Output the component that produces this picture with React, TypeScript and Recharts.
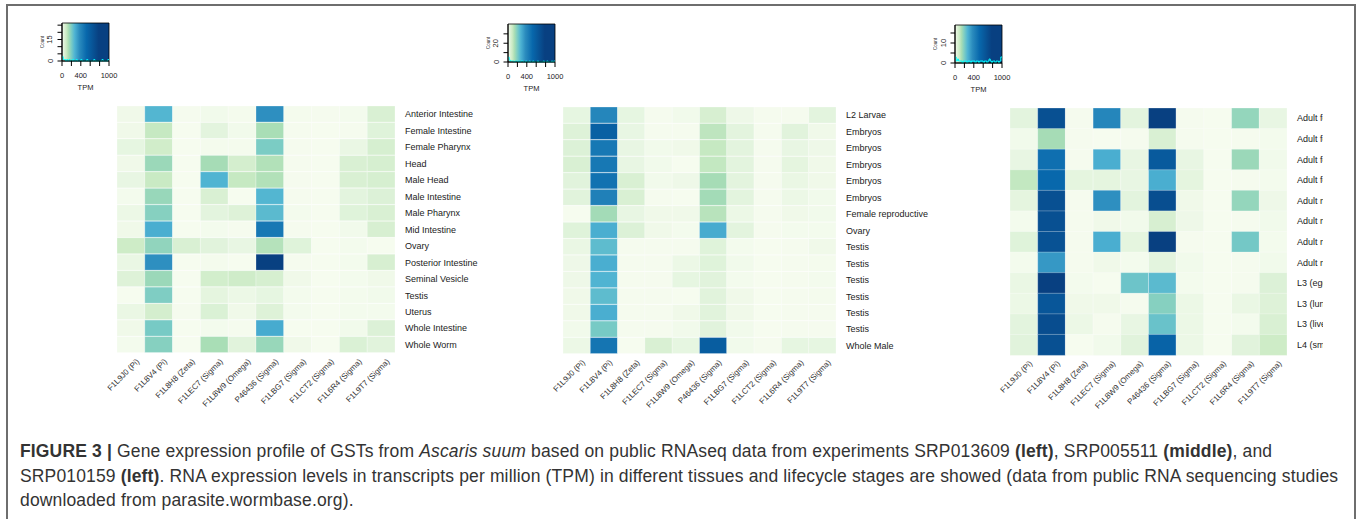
import React from "react";
import {
  BarChart,
  Bar,
  Cell,
  XAxis,
  YAxis,
  ComposedChart,
  Line,
  ReferenceArea,
  Label,
} from "recharts";

// genes (columns), same order in all three panels
const GENES = [
  "F1L9J0 (Pi)",
  "F1L8V4 (Pi)",
  "F1L8H8 (Zeta)",
  "F1LEC7 (Sigma)",
  "F1L8W9 (Omega)",
  "P46436 (Sigma)",
  "F1LBG7 (Sigma)",
  "F1LCT2 (Sigma)",
  "F1L6R4 (Sigma)",
  "F1L9T7 (Sigma)",
];

// SRP013609 - tissues
const LEFT_TISSUES = [
  "Anterior Intestine",
  "Female Intestine",
  "Female Pharynx",
  "Head",
  "Male Head",
  "Male Intestine",
  "Male Pharynx",
  "Mid Intestine",
  "Ovary",
  "Posterior Intestine",
  "Seminal Vesicle",
  "Testis",
  "Uterus",
  "Whole Intestine",
  "Whole Worm",
];
const LEFT_TPM = [
  [40, 610, 10, 30, 15, 740, 15, 10, 20, 170],
  [40, 270, 5, 110, 30, 370, 10, 5, 10, 130],
  [90, 220, 5, 15, 15, 500, 10, 5, 70, 190],
  [40, 410, 5, 380, 200, 340, 10, 5, 170, 190],
  [80, 260, 5, 620, 270, 340, 10, 5, 170, 190],
  [20, 420, 5, 170, 5, 610, 10, 5, 110, 150],
  [60, 470, 5, 110, 140, 590, 20, 5, 130, 170],
  [40, 640, 5, 20, 10, 820, 10, 5, 30, 180],
  [240, 440, 170, 120, 80, 330, 130, 5, 20, 5],
  [70, 740, 5, 15, 5, 1000, 10, 5, 20, 180],
  [140, 410, 5, 210, 230, 190, 40, 5, 20, 40],
  [5, 490, 5, 100, 60, 90, 20, 5, 20, 30],
  [70, 200, 10, 160, 40, 140, 20, 5, 20, 20],
  [40, 510, 5, 20, 10, 650, 5, 5, 30, 150],
  [20, 470, 5, 370, 120, 420, 40, 5, 160, 120],
];

// SRP005511 - lifecycle stages
const MID_TISSUES = [
  "L2 Larvae",
  "Embryos",
  "Embryos",
  "Embryos",
  "Embryos",
  "Embryos",
  "Female reproductive",
  "Ovary",
  "Testis",
  "Testis",
  "Testis",
  "Testis",
  "Testis",
  "Testis",
  "Whole Male",
];
const MID_TPM = [
  [90, 770, 90, 10, 30, 180, 50, 10, 10, 110],
  [140, 900, 80, 10, 10, 300, 110, 10, 120, 40],
  [150, 820, 80, 30, 40, 270, 110, 10, 80, 50],
  [170, 820, 80, 30, 5, 280, 110, 10, 100, 40],
  [120, 840, 170, 30, 50, 380, 110, 10, 70, 40],
  [120, 790, 170, 10, 5, 390, 110, 10, 60, 30],
  [5, 390, 80, 40, 40, 320, 60, 10, 40, 30],
  [130, 640, 150, 40, 20, 650, 110, 10, 20, 20],
  [70, 580, 10, 10, 10, 130, 20, 5, 10, 40],
  [50, 640, 10, 10, 60, 130, 30, 5, 10, 15],
  [50, 620, 10, 10, 90, 120, 20, 5, 10, 20],
  [40, 580, 10, 10, 5, 120, 40, 5, 10, 15],
  [40, 640, 10, 10, 40, 120, 40, 5, 10, 10],
  [30, 510, 10, 10, 30, 120, 30, 5, 10, 10],
  [60, 830, 5, 170, 90, 910, 30, 10, 90, 90],
];

// SRP010159 - labels are cut off at the panel edge
const RIGHT_TISSUES = [
  "Adult female",
  "Adult female",
  "Adult female",
  "Adult female",
  "Adult male",
  "Adult male",
  "Adult male",
  "Adult male",
  "L3 (egg)",
  "L3 (lung)",
  "L3 (liver)",
  "L4 (small intestine)",
];
const RIGHT_TPM = [
  [110, 950, 10, 770, 110, 1000, 10, 5, 430, 80],
  [30, 380, 10, 5, 10, 170, 10, 5, 10, 20],
  [80, 850, 10, 640, 80, 920, 80, 5, 410, 30],
  [280, 875, 100, 100, 80, 640, 100, 5, 10, 20],
  [100, 950, 10, 740, 110, 955, 40, 5, 430, 50],
  [20, 950, 10, 40, 30, 180, 50, 5, 10, 30],
  [130, 945, 10, 640, 100, 1000, 10, 5, 520, 20],
  [20, 710, 10, 40, 20, 110, 30, 5, 10, 30],
  [70, 1000, 20, 5, 540, 590, 20, 5, 10, 150],
  [60, 930, 40, 40, 10, 470, 60, 5, 70, 140],
  [110, 960, 60, 10, 80, 550, 60, 5, 20, 170],
  [120, 950, 5, 30, 120, 890, 60, 5, 120, 240],
];

// colour key histograms (count per 25 TPM bin)
const LEFT_HIST = [3, 1, 1, 0, 1, 0, 1, 0, 0, 1, 0, 0, 1, 0, 0, 0, 1, 0, 0, 0, 0, 1, 0, 0, 0, 0, 0, 1, 0, 0, 0, 0, 0, 0, 1, 0, 0, 0, 0, 1];
const MID_HIST = [5, 2, 1, 1, 1, 0, 1, 1, 0, 1, 0, 1, 1, 0, 0, 1, 0, 0, 1, 0, 0, 1, 0, 0, 0, 1, 0, 0, 0, 0, 1, 0, 0, 1, 0, 0, 0, 1, 0, 1];
const RIGHT_HIST = [3, 1, 2, 1, 1, 1, 0, 1, 1, 1, 0, 1, 1, 0, 1, 1, 1, 0, 1, 1, 0, 1, 1, 1, 0, 1, 1, 0, 1, 2, 1, 0, 1, 1, 0, 1, 1, 0, 1, 3];

const GNBU = ["#f7fcf0", "#e0f3db", "#ccebc5", "#a8ddb5", "#7bccc4", "#4eb3d3", "#2b8cbe", "#0868ac", "#084081"];
// where each colour sits along the key strip
const KEY_STOPS = [0, 0.04, 0.09, 0.14, 0.2, 0.27, 0.37, 0.52, 0.78];

const FONT = "'Liberation Sans', Arial, Helvetica, sans-serif";

function gnbu(v: number) {
  const t = Math.max(0, Math.min(1, v / 1000)) * (GNBU.length - 1);
  const i = Math.min(Math.floor(t), GNBU.length - 2);
  const f = t - i;
  const a = GNBU[i];
  const b = GNBU[i + 1];
  const ch = (s: string, k: number) => parseInt(s.slice(1 + k * 2, 3 + k * 2), 16);
  const mix = [0, 1, 2].map((k) => Math.round(ch(a, k) + (ch(b, k) - ch(a, k)) * f));
  return `rgb(${mix[0]},${mix[1]},${mix[2]})`;
}

const GeneTick = (props: any) => {
  const { x, y, payload } = props;
  const name = GENES[Math.floor(payload.value)];
  const ax = x + 9;
  const ay = y + 7;
  return (
    <text
      x={ax}
      y={ay}
      transform={`rotate(-45, ${ax}, ${ay})`}
      textAnchor="end"
      fontSize={8}
      fontFamily={FONT}
      fill="#333"
    >
      {name}
    </text>
  );
};

function Heatmap({ left, top, plotW, labelW, tissues, tpm }: any) {
  const data = tissues.map((_: string, r: number) => {
    const row: any = { row: r };
    GENES.forEach((_g, i) => (row[`g${i}`] = 1));
    return row;
  });
  const rowTick = (p: any) => (
    <text
      x={p.x + 8}
      y={p.y}
      dy="0.35em"
      fontSize={9}
      fontFamily={FONT}
      fill="#222"
    >
      {tissues[p.payload.value]}
    </text>
  );
  return (
    <div style={{ position: "absolute", left: left - 20, top }}>
      <BarChart
        width={20 + plotW + labelW}
        height={247 + 70}
        layout="vertical"
        data={data}
        margin={{ top: 0, right: 0, bottom: 0, left: 20 }}
        barCategoryGap={0}
        barGap={0}
      >
        <XAxis
          type="number"
          domain={[0, 10]}
          ticks={[0.5, 1.5, 2.5, 3.5, 4.5, 5.5, 6.5, 7.5, 8.5, 9.5]}
          interval={0}
          tick={GeneTick}
          tickLine={false}
          axisLine={false}
          tickSize={0}
          height={70}
        />
        <YAxis
          type="category"
          dataKey="row"
          orientation="right"
          width={labelW}
          interval={0}
          tick={rowTick}
          tickLine={false}
          axisLine={false}
          tickSize={0}
        />
        {GENES.map((g, i) => (
          <Bar
            key={g}
            dataKey={`g${i}`}
            stackId="a"
            isAnimationActive={false}
            stroke="#ffffff"
            strokeWidth={0.6}
            strokeOpacity={0.45}
          >
            {tpm.map((row: number[], r: number) => (
              <Cell key={`c-${r}`} fill={gnbu(row[i])} />
            ))}
          </Bar>
        ))}
      </BarChart>
    </div>
  );
}

function ColourKey({ left, top, hist, yMax, yTicks, yLabels, id }: any) {
  const data = hist
    .map((c: number, i: number) => ({ tpm: i * 25, count: c }))
    .concat([{ tpm: 1000, count: hist[hist.length - 1] }]);
  const xLabels = [0, 400, 1000];
  const xTick = (p: any) =>
    xLabels.includes(p.payload.value) ? (
      <text x={p.x} y={p.y + 11.5} textAnchor="middle" fontSize={7.5} fontFamily={FONT} fill="#222">
        {p.payload.value}
      </text>
    ) : (
      <g />
    );
  const yTick = (p: any) =>
    yLabels.includes(p.payload.value) ? (
      <text
        x={p.x - 5}
        y={p.y}
        transform={`rotate(-90, ${p.x - 5}, ${p.y})`}
        textAnchor="middle"
        fontSize={7.5}
        fontFamily={FONT}
        fill="#222"
      >
        {p.payload.value}
      </text>
    ) : (
      <g />
    );
  return (
    <div style={{ position: "absolute", left, top }}>
      <ComposedChart width={87} height={72} data={data} margin={{ top: 2, right: 18, bottom: 0, left: 0 }}>
        <defs>
          <linearGradient id={id} x1="0" y1="0" x2="1" y2="0">
            {GNBU.map((c, i) => (
              <stop key={c} offset={KEY_STOPS[i]} stopColor={c} />
            ))}
          </linearGradient>
        </defs>
        <XAxis
          type="number"
          dataKey="tpm"
          domain={[0, 1000]}
          ticks={[0, 200, 400, 600, 800, 1000]}
          interval={0}
          tick={xTick}
          tickSize={5}
          tickMargin={0}
          stroke="#000"
          height={32}
        >
          <Label
            content={(p: any) => (
              <text
                x={p.viewBox.x + p.viewBox.width / 2}
                y={p.viewBox.y + 28.5}
                textAnchor="middle"
                fontSize={7.5}
                fontFamily={FONT}
                fill="#222"
              >
                TPM
              </text>
            )}
          />
        </XAxis>
        <YAxis
          type="number"
          domain={[0, yMax]}
          ticks={yTicks}
          interval={0}
          tick={yTick}
          tickSize={4.5}
          tickMargin={0}
          stroke="#000"
          width={22}
        >
          <Label
            content={(p: any) => {
              const lx = p.viewBox.x + 3.6;
              const ly = p.viewBox.y + p.viewBox.height / 2;
              return (
                <text
                  x={lx}
                  y={ly}
                  transform={`rotate(-90, ${lx}, ${ly})`}
                  textAnchor="middle"
                  fontSize={4.5}
                  fontFamily={FONT}
                  fill="#333"
                >
                  Count
                </text>
              );
            }}
          />
        </YAxis>
        <ReferenceArea
          x1={0}
          x2={1000}
          y1={0}
          y2={yMax}
          fill={`url(#${id})`}
          fillOpacity={1}
          stroke="#000"
          strokeWidth={0.8}
        />
        <Line
          type="stepAfter"
          dataKey="count"
          stroke="#00ffff"
          strokeWidth={1}
          dot={false}
          isAnimationActive={false}
        />
      </ComposedChart>
    </div>
  );
}

export default function App() {
  return (
    <div
      style={{
        position: "absolute",
        left: 0,
        top: 0,
        width: 1357,
        height: 519,
        background: "#fff",
        overflow: "hidden",
        fontFamily: FONT,
      }}
    >
      <div
        style={{
          position: "absolute",
          left: 6,
          top: 4,
          width: 1346,
          height: 530,
          border: "2px solid #6e6e6e",
          borderBottom: "none",
        }}
      />
      <ColourKey left={40} top={21} hist={LEFT_HIST} yMax={26.5} yTicks={[0, 5, 10, 15, 20, 25]} yLabels={[0, 15]} id="keyL" />
      <ColourKey left={486} top={22} hist={MID_HIST} yMax={40.5} yTicks={[0, 10, 20, 30]} yLabels={[0, 20]} id="keyM" />
      <ColourKey left={933} top={23} hist={RIGHT_HIST} yMax={19} yTicks={[0, 5, 10, 15]} yLabels={[0, 10]} id="keyR" />

      <Heatmap left={117} top={106} plotW={278} labelW={110} tissues={LEFT_TISSUES} tpm={LEFT_TPM} />
      <Heatmap left={563} top={107} plotW={273} labelW={110} tissues={MID_TISSUES} tpm={MID_TPM} />
      <Heatmap left={1010} top={108} plotW={277} labelW={36} tissues={RIGHT_TISSUES} tpm={RIGHT_TPM} />

      <div
        style={{
          position: "absolute",
          left: 20,
          top: 439,
          fontFamily: FONT,
          fontSize: 17.5,
          letterSpacing: "0.15px",
          lineHeight: "24.5px",
          color: "#333",
          whiteSpace: "nowrap",
        }}
      >
        <div>
          <b>FIGURE 3 |</b> Gene expression profile of GSTs from <i>Ascaris suum</i> based on public RNAseq data from
          experiments SRP013609 <b>(left)</b>, SRP005511 <b>(middle)</b>, and
        </div>
        <div>
          SRP010159 <b>(left)</b>. RNA expression levels in transcripts per million (TPM) in different tissues and
          lifecycle stages are showed (data from public RNA sequencing studies
        </div>
        <div>downloaded from parasite.wormbase.org).</div>
      </div>
    </div>
  );
}
